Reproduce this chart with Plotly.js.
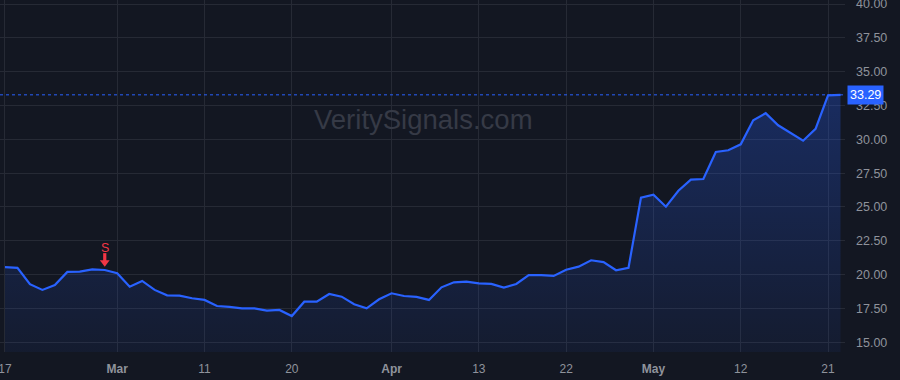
<!DOCTYPE html>
<html>
<head>
<meta charset="utf-8">
<script src="https://cdn.plot.ly/plotly-3.0.1.min.js"></script>
<style>
  html, body { margin: 0; padding: 0; background: #131722; }
  #chart { width: 900px; height: 380px; }
</style>
</head>
<body>
<div id="chart"></div>
<script>
// Trading-day index along the x axis
const prices = [
  20.55, 20.50, 19.29, 18.87, 19.23, 20.20, 20.22, 20.39, 20.34, 20.10,
  19.11, 19.53, 18.87, 18.47, 18.45, 18.25, 18.13, 17.68, 17.61, 17.51,
  17.51, 17.34, 17.39, 16.94, 18.00, 18.00, 18.57, 18.37, 17.81, 17.51,
  18.18, 18.62, 18.42, 18.35, 18.13, 19.06, 19.43, 19.48, 19.36, 19.31,
  19.04, 19.31, 19.97, 19.97, 19.90, 20.36, 20.59, 21.06, 20.93, 20.32,
  20.51, 25.69, 25.91, 25.02, 26.20, 27.02, 27.07, 29.07, 29.19, 29.63,
  31.41, 31.93, 31.04, 30.45, 29.90, 30.77, 33.25, 33.29
];
const tickIndex = [0, 9, 16, 23, 31, 38, 45, 52, 59, 66];
const tickLabels = ["17", "Mar", "11", "20", "Apr", "13", "22", "May", "12", "21"];
const yTicks = [15, 17.5, 20, 22.5, 25, 27.5, 30, 32.5, 35, 37.5, 40];
const signalIndex = [8];
const signalLabels = ["S"];
const lastPrice = 33.29;
const watermark = "VeritySignals.com";

const xs = prices.map((_, i) => i);
const monthNames = ["Jan","Feb","Mar","Apr","May","Jun","Jul","Aug","Sep","Oct","Nov","Dec"];
const tickText = tickLabels.map(t => monthNames.includes(t) ? "<b>" + t + "</b>" : t);

const yMin = 14.28, yMax = 40.30;
const plotHeightPx = 352;
const unitsPerPx = (yMax - yMin) / plotHeightPx;

const sigX = signalIndex;
const sigY = signalIndex.map(i => prices[i]);

const traces = [{
  x: xs,
  y: prices,
  type: "scatter",
  mode: "lines",
  line: { color: "#2962FF", width: 2.2 },
  fill: "tozeroy",
  fillgradient: {
    type: "vertical",
    start: yMin,
    stop: Math.max(...prices),
    colorscale: [[0, "rgba(41,98,255,0.06)"], [1, "rgba(41,98,255,0.28)"]]
  },
  hoverinfo: "skip"
}, {
  // arrow shaft
  x: sigX,
  y: sigY.map(v => v + 12 * unitsPerPx),
  type: "scatter", mode: "markers",
  marker: { symbol: "line-ns", size: 7, line: { color: "#F23645", width: 3.2 } },
  hoverinfo: "skip"
}, {
  // arrow head
  x: sigX,
  y: sigY.map(v => v + 7.6 * unitsPerPx),
  type: "scatter", mode: "markers",
  marker: { symbol: "triangle-down", size: 8.5, color: "#F23645", line: { width: 0 } },
  hoverinfo: "skip"
}];

const annotations = [
  {
    xref: "paper", yref: "paper", x: 0.501, y: 0.66,
    text: watermark, showarrow: false,
    font: { family: "Liberation Sans, Arial, sans-serif", size: 27.5, color: "#363a46" }
  },
  {
    xref: "paper", yref: "y", x: 1, y: lastPrice,
    xanchor: "left", yanchor: "middle", xshift: 2,
    text: lastPrice.toFixed(2), showarrow: false,
    bgcolor: "#2962FF", borderpad: 2,
    font: { family: "Liberation Sans, Arial, sans-serif", size: 12.5, color: "#ffffff" }
  }
];
signalIndex.forEach((idx, k) => {
  annotations.push({
    x: idx, y: prices[idx], xref: "x", yref: "y",
    text: signalLabels[k], showarrow: false, yshift: 22.5,
    font: { family: "Liberation Sans, Arial, sans-serif", size: 12.5, color: "#F23645" }
  });
});

const layout = {
  width: 900, height: 380,
  margin: { l: 0, r: 55, t: 0, b: 28 },
  paper_bgcolor: "#131722",
  plot_bgcolor: "#131722",
  showlegend: false,
  font: { family: "Liberation Sans, Arial, sans-serif", color: "#8f939c", size: 12 },
  xaxis: {
    range: [-0.4, 67.36],
    tickvals: tickIndex,
    ticktext: tickText,
    showgrid: true, gridcolor: "#262a35", gridwidth: 1,
    zeroline: false, showline: false,
    ticks: "", ticklabelstandoff: 8,
    ticklabeloverflow: "allow",
    tickfont: { size: 12, color: "#8f939c" },
    fixedrange: true
  },
  yaxis: {
    side: "right",
    range: [yMin, yMax],
    tickvals: yTicks,
    ticktext: yTicks.map(v => v.toFixed(2)),
    showgrid: true, gridcolor: "#262a35", gridwidth: 1,
    zeroline: false, showline: false,
    ticks: "", ticklabelstandoff: 10,
    ticklabeloverflow: "allow",
    tickfont: { size: 12.5, color: "#8f939c" },
    fixedrange: true
  },
  shapes: [{
    type: "line", xref: "paper", yref: "y",
    x0: 0, x1: 1, y0: lastPrice, y1: lastPrice,
    line: { color: "#2962FF", width: 1, dash: "dot" }
  }],
  annotations: annotations
};

Plotly.newPlot("chart", traces, layout, { displayModeBar: false, staticPlot: true });
</script>
</body>
</html>
